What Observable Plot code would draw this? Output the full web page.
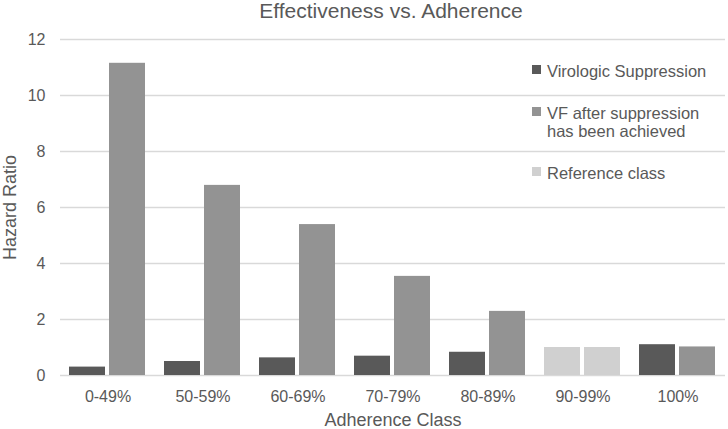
<!DOCTYPE html>
<html>
<head>
<meta charset="utf-8">
<script src="https://cdn.jsdelivr.net/npm/d3@7"></script>
<script src="https://cdn.jsdelivr.net/npm/@observablehq/plot@0.6"></script>
<style>
  html, body { margin: 0; padding: 0; background: #fff; }
  #wrap { position: relative; width: 728px; height: 429px; font-family: "Liberation Sans", Arial, sans-serif; color: #595959; }
  #title { height: 24px; line-height: 21px; font-size: 21px; text-align: center; padding-left: 54px; }
  #chart svg { display: block; }
  g[aria-label="y-axis label"] text, g[aria-label="fx-axis label"] text { font-size: 18px; }
  .leg { position: absolute; left: 532px; font-size: 16.5px; line-height: 18px; }
  .leg .sw { position: absolute; left: 0; width: 9px; height: 9px; }
  .leg .tx { position: absolute; left: 15px; white-space: nowrap; }
</style>
</head>
<body>
<div id="wrap">
  <div id="title">Effectiveness vs. Adherence</div>
  <div id="chart"></div>
  <div id="legend"></div>
</div>
<script>
const categories = ["0-49%", "50-59%", "60-69%", "70-79%", "80-89%", "90-99%", "100%"];
const virologic = [0.30, 0.50, 0.63, 0.69, 0.83, 1.00, 1.10];
const vfAfter = [11.15, 6.79, 5.39, 3.54, 2.29, 1.00, 1.02];
const seriesNames = ["Virologic Suppression", "VF after suppression has been achieved"];
const referenceLabel = "Reference class";
const referenceCategory = "90-99%";
const yTicks = [0, 2, 4, 6, 8, 10, 12];
const colors = ["#595959", "#939393", "#d0d0d0"];

const data = categories.flatMap((c, i) => [
  {cat: c, series: seriesNames[0], value: virologic[i]},
  {cat: c, series: seriesNames[1], value: vfAfter[i]}
]);

const chart = Plot.plot({
  width: 728,
  height: 405,
  marginTop: 15,
  marginBottom: 54,
  marginLeft: 58,
  marginRight: 1,
  style: {fontFamily: "'Liberation Sans', Arial, sans-serif", fontSize: "16px", color: "#595959", background: "transparent"},
  fx: {domain: categories, padding: 0, label: "Adherence Class", labelAnchor: "center", tickSize: 0, tickPadding: 15, labelOffset: 50},
  x: {domain: seriesNames, axis: null, paddingInner: 0.0976, paddingOuter: 0.215},
  y: {domain: [0, 12], ticks: yTicks, tickSize: 0, tickPadding: 15, label: "Hazard Ratio", labelArrow: "none", labelAnchor: "center", labelOffset: 57},
  color: {domain: [...seriesNames, referenceLabel], range: colors},
  marks: [
    Plot.ruleY(yTicks, {stroke: "#d9d9d9", strokeWidth: 1.4}),
    Plot.barY(data, {
      fx: "cat", x: "series", y: "value",
      fill: d => d.cat === referenceCategory ? referenceLabel : d.series
    })
  ]
});
// strip any arrow from axis labels
chart.querySelectorAll('g[aria-label$="axis label"] text').forEach(t => {
  t.textContent = t.textContent.replace(/\s*[↑↓→←]\s*/g, "");
});
document.getElementById("chart").appendChild(chart);

// legend overlay
const legendItems = [
  {label: [seriesNames[0]], color: colors[0], top: 62},
  {label: ["VF after suppression", "has been achieved"], color: colors[1], top: 104},
  {label: [referenceLabel], color: colors[2], top: 164}
];
const leg = document.getElementById("legend");
legendItems.forEach(it => {
  const d = document.createElement("div");
  d.className = "leg";
  d.style.top = it.top + "px";
  const sw = document.createElement("div");
  sw.className = "sw";
  sw.style.background = it.color;
  sw.style.top = "3px";
  const tx = document.createElement("div");
  tx.className = "tx";
  tx.innerHTML = it.label.join("<br>");
  d.appendChild(sw); d.appendChild(tx);
  leg.appendChild(d);
});
</script>
</body>
</html>
